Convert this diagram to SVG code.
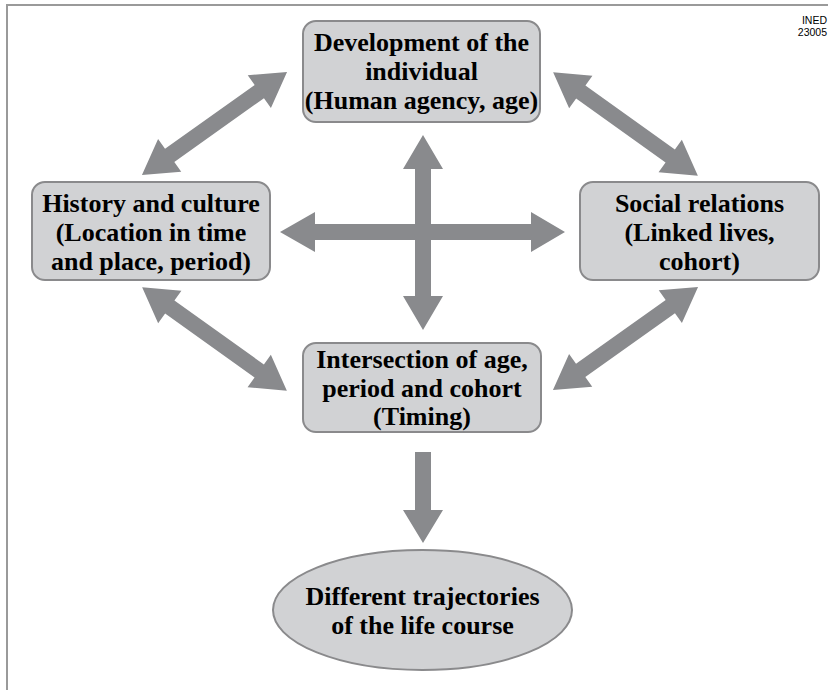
<svg xmlns="http://www.w3.org/2000/svg" width="828" height="690" viewBox="0 0 828 690">
<style>
.frame{fill:none;stroke:#9a9a9a;stroke-width:2}
.box{fill:#d1d2d4;stroke:#8a8a8c;stroke-width:2}
.arr{fill:#898a8d}
.t{font-family:"Liberation Serif","Times New Roman",serif;font-weight:bold;font-size:26px;fill:#000;text-anchor:middle}
.s{font-family:"Liberation Sans",Arial,sans-serif;font-size:10.5px;fill:#000;text-anchor:end}
</style>
<defs>
<polygon id="diag" points="-89,0 -55,-20 -55,-8 55,-8 55,-20 89,0 55,20 55,8 -55,8 -55,20"/>
</defs>
<rect width="828" height="690" fill="#fff"/>
<path class="frame" d="M7,690 V5 H828"/>
<text class="s" x="827" y="24">INED</text>
<text class="s" x="827" y="36">23005</text>
<g id="connectors" class="arr">
<use href="#diag" transform="translate(214.5,123.5) rotate(-35.4)"/>
<use href="#diag" transform="translate(625.5,124) rotate(35.6)"/>
<use href="#diag" transform="translate(214.5,339) rotate(35.6)"/>
<use href="#diag" transform="translate(625.5,338.5) rotate(-35.4)"/>
<polygon points="280,232 315,212 315,224 531,224 531,212 565,232 531,252 531,240 315,240 315,252"/>
<polygon points="423,135 443,169 431,169 431,296 443,296 423,330 403,296 415,296 415,169 403,169"/>
<polygon points="415,452 431,452 431,510 443,510 423,543 403,510 415,510"/>
</g>
<g id="node-development">
<rect class="box" x="303" y="21" width="237" height="101" rx="13"/>
<text class="t" x="421.5" y="51">Development of the</text>
<text class="t" x="421.5" y="80">individual</text>
<text class="t" x="421.5" y="109">(Human agency, age)</text>
</g>
<g id="node-history">
<rect class="box" x="32" y="182" width="238" height="98" rx="13"/>
<text class="t" x="151" y="212">History and culture</text>
<text class="t" x="151" y="241">(Location in time</text>
<text class="t" x="151" y="270">and place, period)</text>
</g>
<g id="node-social">
<rect class="box" x="580" y="182" width="239" height="98" rx="13"/>
<text class="t" x="699.5" y="212">Social relations</text>
<text class="t" x="699.5" y="241">(Linked lives,</text>
<text class="t" x="699.5" y="270">cohort)</text>
</g>
<g id="node-intersection">
<rect class="box" x="303" y="343" width="238" height="89" rx="13"/>
<text class="t" x="422" y="368">Intersection of age,</text>
<text class="t" x="422" y="397">period and cohort</text>
<text class="t" x="422" y="425">(Timing)</text>
</g>
<g id="node-trajectories">
<ellipse class="box" cx="422.5" cy="610" rx="149.5" ry="60"/>
<text class="t" x="422.5" y="605">Different trajectories</text>
<text class="t" x="422.5" y="634">of the life course</text>
</g>
</svg>
